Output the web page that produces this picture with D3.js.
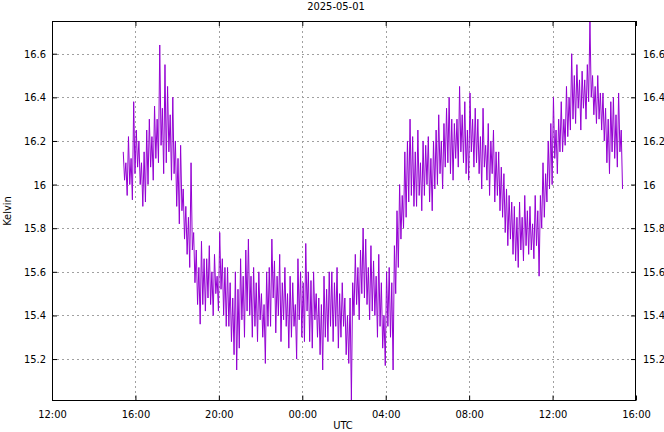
<!DOCTYPE html>
<html><head><meta charset="utf-8">
<script src="https://cdn.jsdelivr.net/npm/d3@7"></script>
<style>
html,body{margin:0;padding:0;background:#fff;}
text{font-family:"Liberation Sans Narrow","DejaVu Sans Condensed","Liberation Sans",sans-serif;font-size:11px;fill:#000;}
</style></head>
<body><svg id="c" width="664" height="432"></svg>
<script>
const title = "2025-05-01";
const yLabel = "Kelvin";
const xLabel = "UTC";
const startTime = "2025-04-30T15:25:00Z";
const stepMinutes = 7.5;   // each interval holds a high reading then a low reading
const xDomain = ["2025-04-30T12:00:00Z", "2025-05-01T16:00:00Z"];
const xTickTimes = ["2025-04-30T12:00:00Z","2025-04-30T16:00:00Z","2025-04-30T20:00:00Z","2025-05-01T00:00:00Z","2025-05-01T04:00:00Z","2025-05-01T08:00:00Z","2025-05-01T12:00:00Z","2025-05-01T16:00:00Z"];
const xTickLabels = ["12:00","16:00","20:00","00:00","04:00","08:00","12:00","16:00"];
const yTicks = [15.2,15.4,15.6,15.8,16.0,16.2,16.4,16.6];
const yTickLabels = ["15.2","15.4","15.6","15.8","16","16.2","16.4","16.6"];
const kelvinHigh = [
16.15,16.10,16.22,16.12,16.38,16.25,16.20,16.10,
16.15,16.25,16.30,16.22,16.36,16.30,16.64,16.35,
16.55,16.45,16.32,16.40,16.20,16.12,16.18,15.98,
15.90,15.85,16.10,15.78,15.70,15.62,15.74,15.66,
15.66,15.72,15.60,15.68,15.58,15.78,15.66,15.62,
15.62,15.55,15.48,15.60,15.52,15.66,15.58,15.70,
15.75,15.58,15.62,15.55,15.60,15.50,15.45,15.60,
15.62,15.75,15.65,15.58,15.68,15.55,15.62,15.50,
15.58,15.55,15.45,15.66,15.60,15.55,15.73,15.60,
15.56,15.60,15.50,15.48,15.45,15.58,15.52,15.60,
15.60,15.55,15.62,15.50,15.55,15.48,15.40,15.48,
15.55,15.68,15.62,15.70,15.80,15.75,15.62,15.72,
15.65,15.58,15.68,15.55,15.40,15.60,15.62,15.55,
15.72,15.88,16.00,15.95,16.15,16.20,16.30,16.22,
16.15,16.25,16.10,16.20,16.18,16.22,16.12,16.20,
16.25,16.32,16.20,16.28,16.35,16.40,16.30,16.28,
16.30,16.45,16.32,16.38,16.25,16.42,16.30,16.35,
16.30,16.22,16.35,16.18,16.28,16.20,16.25,16.15,
16.15,16.08,16.05,15.98,15.95,15.92,15.90,15.85,
15.92,15.85,15.95,15.88,15.90,15.82,15.95,15.88,
15.95,16.10,16.05,16.20,16.28,16.40,16.25,16.30,
16.38,16.30,16.45,16.40,16.60,16.50,16.55,16.48,
16.52,16.48,16.55,16.75,16.50,16.45,16.50,16.42,
16.42,16.35,16.30,16.38,16.40,16.32,16.42,16.25
];
const kelvinLow = [
16.02,15.95,16.00,15.93,16.05,16.08,16.00,15.90,
15.92,16.00,16.08,16.02,16.12,16.10,16.18,16.05,
16.10,16.15,16.02,16.05,15.90,15.82,15.88,15.75,
15.68,15.62,15.70,15.55,15.45,15.36,15.45,15.42,
15.48,15.45,15.40,15.50,15.42,15.52,15.40,15.35,
15.35,15.28,15.22,15.15,15.25,15.38,15.30,15.42,
15.40,15.30,15.35,15.28,15.38,15.30,15.18,15.35,
15.35,15.48,15.32,15.40,15.28,15.38,15.35,15.25,
15.30,15.35,15.20,15.38,15.30,15.28,15.42,15.28,
15.25,15.38,15.30,15.22,15.15,15.30,15.28,15.35,
15.28,15.35,15.25,15.30,15.35,15.22,15.18,15.01,
15.40,15.45,15.38,15.50,15.48,15.45,15.38,15.42,
15.40,15.30,15.35,15.25,15.17,15.35,15.30,15.15,
15.50,15.62,15.75,15.80,15.85,15.92,15.95,15.90,
15.90,15.95,15.88,15.95,16.00,15.92,15.88,15.98,
16.00,16.05,15.98,16.08,16.10,16.05,16.02,16.12,
16.08,16.15,16.10,16.05,16.02,16.15,16.08,16.10,
16.05,15.98,16.08,16.02,15.95,16.05,15.92,15.95,
15.88,15.85,15.78,15.72,15.75,15.68,15.65,15.62,
15.70,15.65,15.72,15.68,15.70,15.66,15.72,15.58,
15.80,15.85,15.92,15.98,16.00,16.12,16.05,16.15,
16.15,16.18,16.22,16.25,16.30,16.28,16.35,16.25,
16.35,16.30,16.38,16.40,16.32,16.28,16.30,16.25,
16.20,16.10,16.05,16.15,16.12,16.08,16.15,15.98
];

const L = 52, R = 636, T = 21, B = 400.5;
const svg = d3.select("#c");
const t0 = new Date(startTime).getTime();
const stepMs = stepMinutes * 60000;
// readings in time order: high reading at start of interval, low reading half an interval later
const readings = d3.merge(kelvinHigh.map((hi, i) => [
  {t: new Date(t0 + i * stepMs), v: hi},
  {t: new Date(t0 + i * stepMs + stepMs / 2), v: kelvinLow[i]}
]));

const x = d3.scaleUtc().domain(xDomain.map(s => new Date(s))).range([L, R]);
const y = d3.scaleLinear().domain(d3.extent(readings, d => d.v)).range([B, T]);
const xt = xTickTimes.map(s => new Date(s));

// grid
const grid = svg.append("g").attr("stroke", "#a0a0a0").attr("stroke-width", 1).attr("stroke-dasharray", "2,3").attr("fill", "none");
xt.slice(1, -1).forEach(d => {
  const px = Math.round(x(d)) + 0.5;
  grid.append("line").attr("x1", px).attr("x2", px).attr("y1", T).attr("y2", B);
});
yTicks.forEach(d => {
  const py = Math.round(y(d)) + 0.5;
  grid.append("line").attr("x1", L).attr("x2", R).attr("y1", py).attr("y2", py);
});

// data line
svg.append("path").datum(readings)
  .attr("fill", "none").attr("stroke", "#9400d3").attr("stroke-width", 1)
  .attr("d", d3.line().x(d => x(d.t)).y(d => y(d.v)));

// axes (gnuplot-like inward ticks)
const fmtX = (d, i) => xTickLabels[i];
const fmtY = (d, i) => yTickLabels[i];
const ax = (g) => { g.select(".domain").remove(); g.attr("font-family", null).attr("font-size", null); };
svg.append("g").attr("transform", `translate(0,${B})`)
  .call(d3.axisBottom(x).tickValues(xt).tickFormat(fmtX).tickSizeInner(-5).tickSizeOuter(0).tickPadding(10))
  .call(ax);
svg.append("g").attr("transform", `translate(0,${T})`)
  .call(d3.axisTop(x).tickValues(xt).tickFormat("").tickSizeInner(-5).tickSizeOuter(0))
  .call(ax);
svg.append("g").attr("transform", `translate(${L},0)`)
  .call(d3.axisLeft(y).tickValues(yTicks).tickFormat(fmtY).tickSizeInner(-5).tickSizeOuter(0).tickPadding(6))
  .call(ax);
svg.append("g").attr("transform", `translate(${R},0)`)
  .call(d3.axisRight(y).tickValues(yTicks).tickFormat(fmtY).tickSizeInner(-5).tickSizeOuter(0).tickPadding(7))
  .call(ax);

// frame
svg.append("rect").attr("x", L + 0.5).attr("y", T + 0.5).attr("width", R - L - 1).attr("height", B - T - 0.5)
  .attr("fill", "none").attr("stroke", "#000").attr("stroke-width", 1);

// labels
svg.append("text").attr("x", 336).attr("y", 10).attr("text-anchor", "middle").text(title);
svg.append("text").attr("x", 343).attr("y", 429).attr("text-anchor", "middle").text(xLabel);
svg.append("text").attr("transform", "translate(11,211) rotate(-90)").attr("text-anchor", "middle").text(yLabel);
</script></body></html>
